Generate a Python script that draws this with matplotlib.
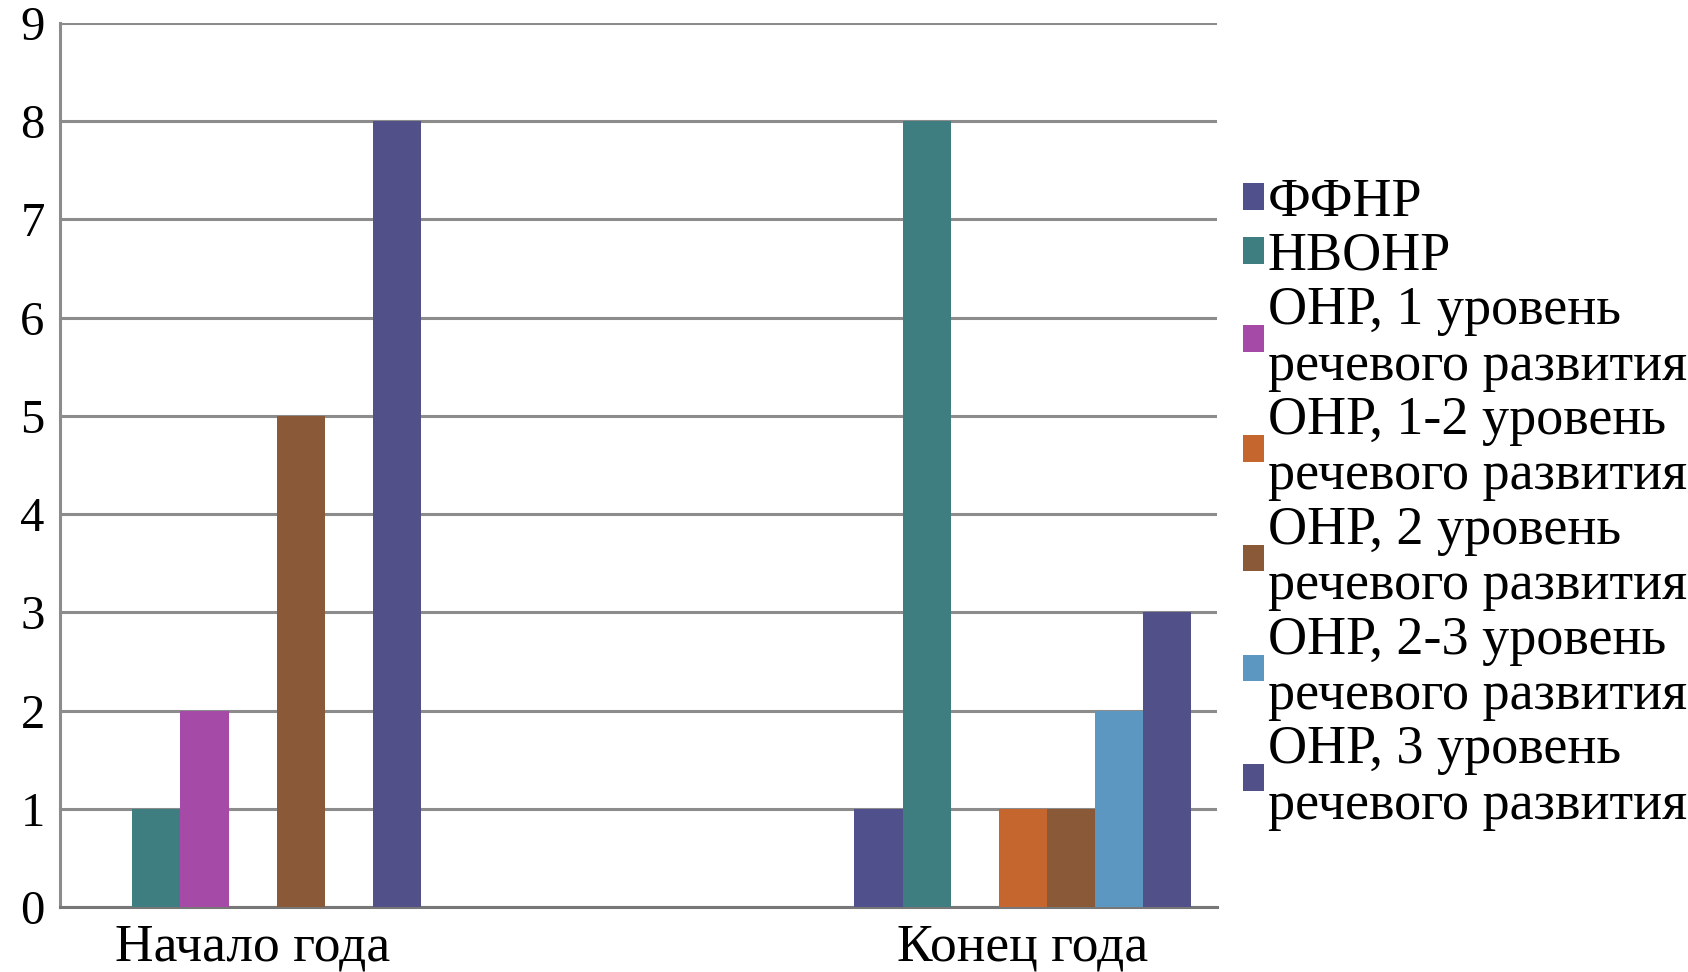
import matplotlib

matplotlib.use("Agg")
import matplotlib.pyplot as plt

categories = ["Начало года", "Конец года"]

series_names = [
    "ФФНР",
    "НВОНР",
    "ОНР, 1 уровень\nречевого развития",
    "ОНР, 1-2 уровень\nречевого развития",
    "ОНР, 2 уровень\nречевого развития",
    "ОНР, 2-3 уровень\nречевого развития",
    "ОНР, 3 уровень\nречевого развития",
]

# values per series: [Начало года, Конец года]
ffnr = [0, 1]
nvonr = [1, 8]
onr_1 = [2, 0]
onr_1_2 = [0, 1]
onr_2 = [5, 1]
onr_2_3 = [0, 2]
onr_3 = [8, 3]

series_values = [ffnr, nvonr, onr_1, onr_1_2, onr_2, onr_2_3, onr_3]

colors = ["#50508c", "#3f7e80", "#a64aa8", "#c4662e", "#8a5a38", "#5b97c1", "#525089"]

plt.rcParams["font.family"] = "serif"
plt.rcParams["font.serif"] = ["Liberation Serif", "DejaVu Serif"]
FONT = "Liberation Serif"

fig = plt.figure(figsize=(16.88, 9.72), dpi=100)
ax = fig.add_axes([60 / 1688, 65 / 972, (1217 - 60) / 1688, (907 - 23) / 972])

n = len(series_values)
width = 0.0625
x = list(range(len(categories)))
for i, (vals, name, col) in enumerate(zip(series_values, series_names, colors)):
    offs = (i - (n - 1) / 2) * width
    ax.bar([xi + offs for xi in x], vals, width=width, color=col, label=name, zorder=3)

ax.set_xlim(-0.25, 1.252)
ax.set_ylim(0, 9)
ax.set_yticks(range(0, 10))
ax.set_yticklabels([str(v) for v in range(0, 10)], family=FONT, fontsize=35)
ax.set_xticks(x)
ax.set_xticklabels(categories, family=FONT, fontsize=38.5)
ax.yaxis.grid(True, color="#8c8c8c", linewidth=2.2, zorder=0)
ax.set_axisbelow(True)

for side in ["top", "right"]:
    ax.spines[side].set_visible(False)
ax.spines["left"].set_color("#8c8c8c")
ax.spines["left"].set_linewidth(2.2)
ax.spines["bottom"].set_color("#777777")
ax.spines["bottom"].set_linewidth(2.2)

ax.tick_params(axis="y", length=0, pad=11)
ax.tick_params(axis="x", length=0, pad=12)

leg = ax.legend(
    loc="center left",
    bbox_to_anchor=(1243 / 1688, 0.4815),
    bbox_transform=fig.transFigure,
    frameon=False,
    prop={"family": FONT, "size": 39},
    handlelength=0.38,
    handleheight=0.38,
    handletextpad=0.08,
    labelspacing=0.07,
    borderpad=0,
    borderaxespad=0,
)
for t in leg.get_texts():
    t.set_linespacing(1.13)

fig.savefig("out.png", dpi=100)
